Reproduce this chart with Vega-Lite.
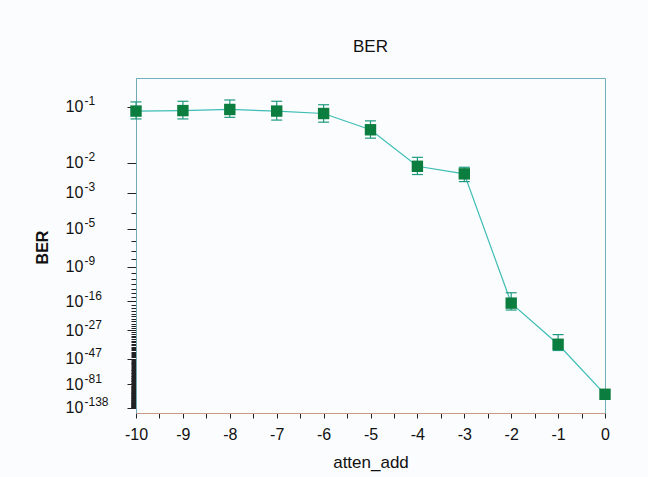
{
  "$schema": "https://vega.github.io/schema/vega-lite/v6.json",
  "autosize": "none",
  "padding": {"left": 136, "top": 78, "right": 43, "bottom": 64},
  "width": 469,
  "height": 335,
  "background": "#fbfcfd",
  "config": {
    "font": "Liberation Sans",
    "view": {"stroke": "#6fb0bc", "strokeWidth": 1}
  },
  "title": {
    "text": "BER",
    "fontSize": 17,
    "fontWeight": "normal",
    "color": "#111111",
    "anchor": "middle",
    "frame": "group",
    "baseline": "alphabetic",
    "offset": 9
  },
  "data": {
    "values": [
      {"atten_add": -10, "neg_log10_ber": 1.052, "err_low": 0.944, "err_high": 1.156},
      {"atten_add": -9, "neg_log10_ber": 1.046, "err_low": 0.937, "err_high": 1.156},
      {"atten_add": -8, "neg_log10_ber": 1.032, "err_low": 0.923, "err_high": 1.134},
      {"atten_add": -7, "neg_log10_ber": 1.052, "err_low": 0.937, "err_high": 1.172},
      {"atten_add": -6, "neg_log10_ber": 1.083, "err_low": 0.976, "err_high": 1.202},
      {"atten_add": -5, "neg_log10_ber": 1.319, "err_low": 1.183, "err_high": 1.463},
      {"atten_add": -4, "neg_log10_ber": 2.097, "err_low": 1.866, "err_high": 2.338},
      {"atten_add": -3, "neg_log10_ber": 2.317, "err_low": 2.124, "err_high": 2.571},
      {"atten_add": -2, "neg_log10_ber": 16.56, "err_low": 13.84, "err_high": 18.71},
      {"atten_add": -1, "neg_log10_ber": 35.4, "err_low": 29.4, "err_high": 40.0},
      {"atten_add": 0, "neg_log10_ber": 100.9}
    ]
  },
  "encoding": {
    "x": {
      "field": "atten_add",
      "type": "quantitative",
      "scale": {"domain": [-10, 0], "nice": false, "zero": false},
      "axis": {
        "title": "atten_add",
        "titleFontSize": 17,
        "titleFontWeight": "normal",
        "titleColor": "#111111",
        "titleY": 54,
        "titleBaseline": "alphabetic",
        "values": [-10, -9.5, -9, -8.5, -8, -7.5, -7, -6.5, -6, -5.5, -5, -4.5, -4, -3.5, -3, -2.5, -2, -1.5, -1, -0.5, 0],
        "labelExpr": "datum.value % 1 == 0 ? '' + datum.value : ''",
        "labelFontSize": 16,
        "labelColor": "#111111",
        "labelPadding": 8,
        "labelOverlap": false,
        "labelFlush": false,
        "labelBound": false,
        "tickSize": 5,
        "tickColor": "#222222",
        "domainColor": "#c89a8a",
        "grid": false
      }
    }
  },
  "layer": [
    {
      "mark": {"type": "line", "color": "#3dbdb5", "strokeWidth": 1.2},
      "encoding": {
        "y": {
          "field": "neg_log10_ber",
          "type": "quantitative",
          "scale": {"type": "pow", "exponent": -0.14, "domain": [0.717, 155.9], "reverse": true, "nice": false, "zero": false},
          "axis": {
            "orient": "left",
            "title": null,
            "values": [1, 2, 3, 5, 9, 16, 27, 47, 81, 138],
            "labelExpr": "datum.value==1?'-1':datum.value==2?'-2':datum.value==3?'-3':datum.value==5?'-5':datum.value==9?'-9':datum.value==16?'-16':datum.value==27?'-27':datum.value==47?'-47':datum.value==81?'-81':datum.value==138?'-138':''",
            "labelAlign": "left",
            "labelBaseline": "middle",
            "labelPadding": 52,
            "labelOffset": -6,
            "labelFontSize": 12,
            "labelColor": "#111111",
            "labelOverlap": false,
            "labelFlush": false,
            "labelBound": false,
            "ticks": false,
            "tickSize": 0,
            "domain": false,
            "grid": false
          }
        }
      }
    },
    {
      "encoding": {
        "y": {
          "field": "neg_log10_ber",
          "type": "quantitative",
          "axis": {
            "orient": "left",
            "title": "BER",
            "titleFontSize": 16,
            "titleFontWeight": "bold",
            "titleColor": "#111111",
            "titleX": -94,
            "titleY": 169,
            "titleAngle": -90,
            "titleAlign": "center",
            "titleBaseline": "middle",
            "values": [1,2,3,4,5,6,7,8,9,10,11,12,13,14,15,16,17,18,19,20,21,22,23,24,25,26,27,28,29,30,31,32,33,34,35,36,37,38,39,40,41,42,43,44,45,46,47,48,49,50,51,52,53,54,55,56,57,58,59,60,61,62,63,64,65,66,67,68,69,70,71,72,73,74,75,76,77,78,79,80,81,82,83,84,85,86,87,88,89,90,91,92,93,94,95,96,97,98,99,100,101,102,103,104,105,106,107,108,109,110,111,112,113,114,115,116,117,118,119,120,121,122,123,124,125,126,127,128,129,130,131,132,133,134,135,136,137,138],
            "labelExpr": "indexof([1,2,3,5,9,16,27,47,81,138], datum.value) >= 0 ? '10' : ''",
            "labelAlign": "left",
            "labelPadding": 62,
            "labelFontSize": 16,
            "labelColor": "#111111",
            "labelOverlap": false,
            "labelFlush": false,
            "labelBound": false,
            "tickSize": {"condition": {"test": "indexof([1,2,3,5,9,16,27,47,81,138], datum.value) >= 0", "value": 9}, "value": 5},
            "tickColor": "#222222",
            "tickWidth": 1,
            "domainColor": "#6fa8b8",
            "grid": false
          }
        }
      },
      "layer": [
        {
          "mark": {"type": "rule", "color": "#1f9a80", "strokeWidth": 1.2},
          "encoding": {
            "y": {"field": "err_low", "type": "quantitative"},
            "y2": {"field": "err_high"}
          }
        },
        {
          "mark": {"type": "tick", "orient": "horizontal", "size": 11, "thickness": 1.2, "color": "#1f9a80", "opacity": 1},
          "encoding": {"y": {"field": "err_low", "type": "quantitative"}}
        },
        {
          "mark": {"type": "tick", "orient": "horizontal", "size": 11, "thickness": 1.2, "color": "#1f9a80", "opacity": 1},
          "encoding": {"y": {"field": "err_high", "type": "quantitative"}}
        },
        {
          "mark": {"type": "point", "shape": "square", "filled": true, "size": 130, "color": "#0b7d3e", "opacity": 1},
          "encoding": {}
        }
      ]
    }
  ],
  "resolve": {"axis": {"y": "independent"}}
}
